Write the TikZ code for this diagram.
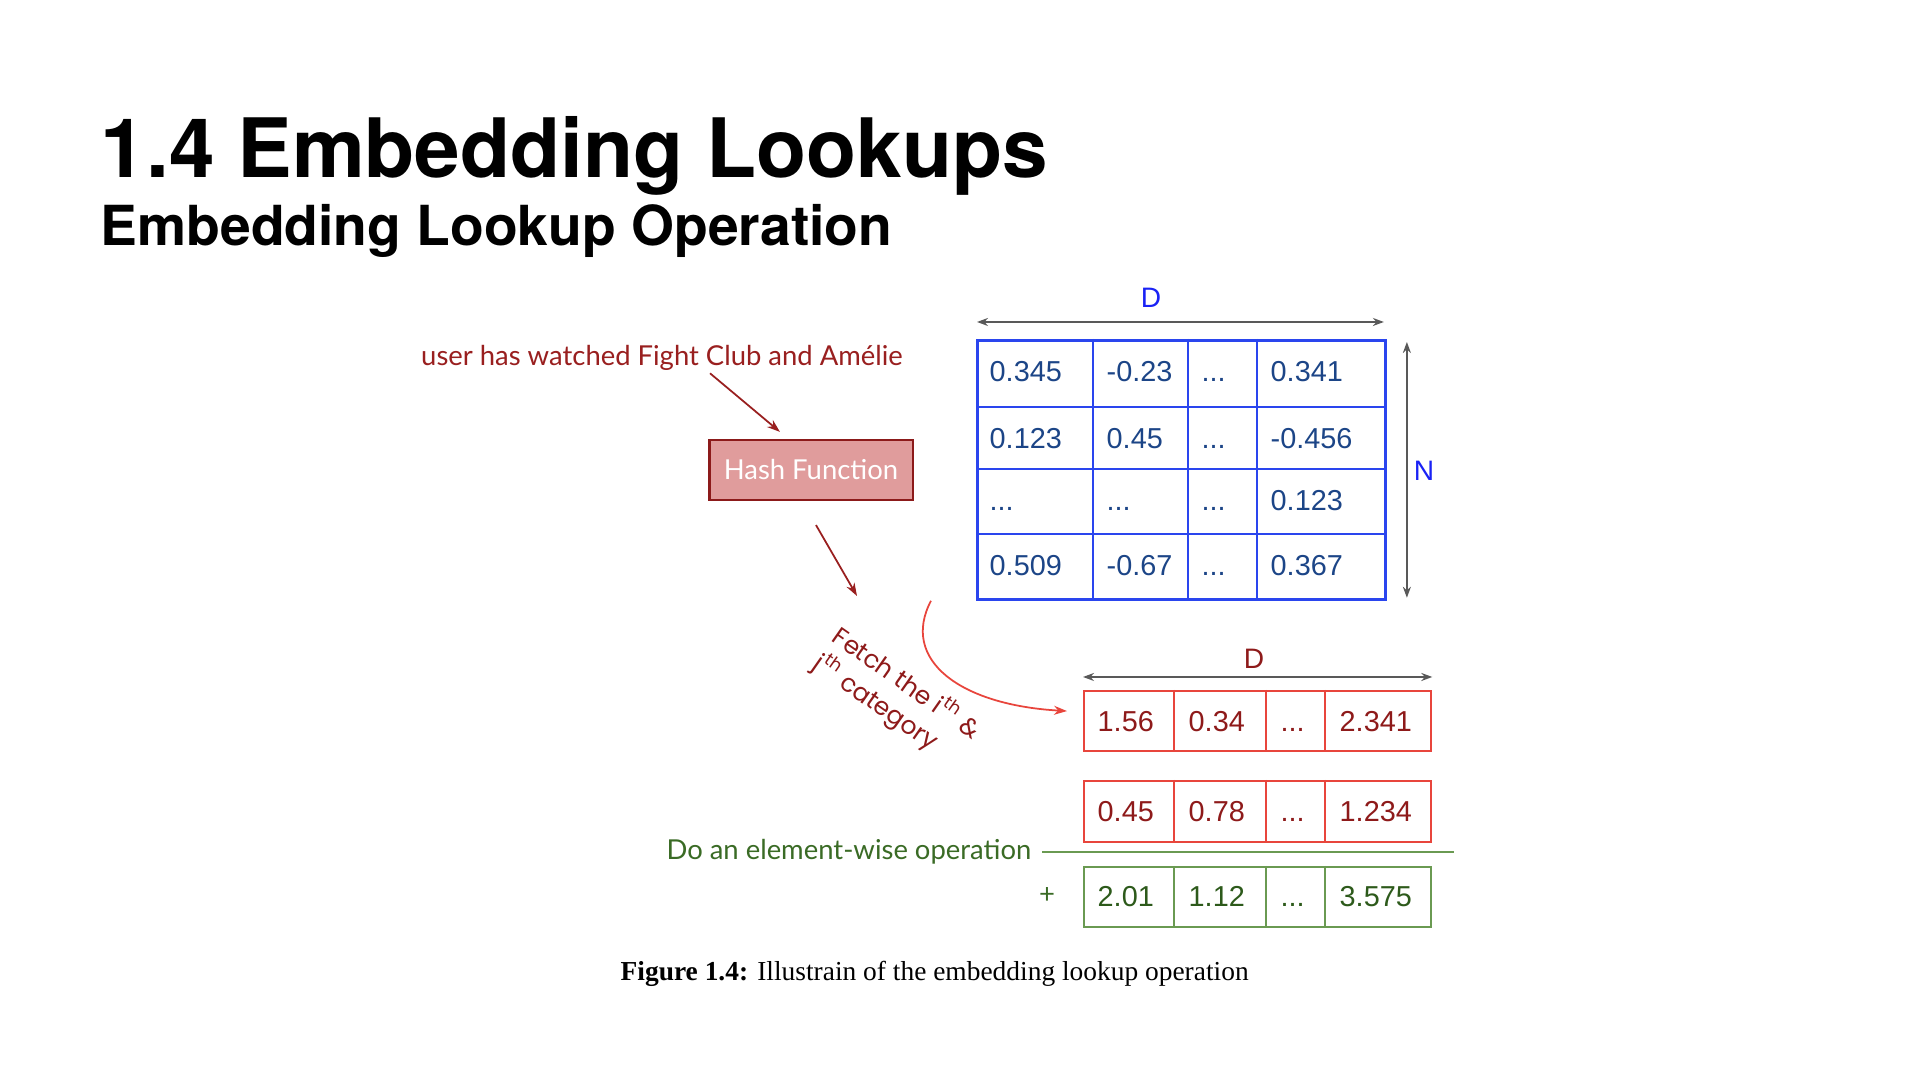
\documentclass[tikz,border=0pt]{standalone}
\usepackage{fontspec}
\setmainfont{Liberation Sans}
\newfontfamily\latofont{Lato}
\newfontfamily\geofont{Poppins}
\newfontfamily\headfont{TeX Gyre Heros}
\newfontfamily\capfont{Liberation Serif}
\usetikzlibrary{arrows.meta}
\definecolor{darkred}{HTML}{991F1F}
\definecolor{hashfill}{HTML}{E09C9C}
\definecolor{hashline}{HTML}{8C1A1A}
\definecolor{embline}{HTML}{2A45EE}
\definecolor{embtext}{HTML}{1C4587}
\definecolor{dimblue}{HTML}{1A22F5}
\definecolor{dimgray}{HTML}{595959}
\definecolor{vecred}{HTML}{E8453C}
\definecolor{vectext}{HTML}{8E1A1A}
\definecolor{sumline}{HTML}{6A9A52}
\definecolor{sumtext}{HTML}{2D5A1B}
\definecolor{sumnote}{HTML}{3A6B25}

\begin{document}
\begin{tikzpicture}[x=0.01cm, y=-0.01cm,
    head/.style={anchor=base west, inner sep=0pt, font=\headfont\bfseries\fontsize{23.3}{28}\selectfont},
    subhead/.style={anchor=base west, inner sep=0pt, font=\headfont\bfseries\fontsize{15.7}{19}\selectfont},
    note/.style={inner sep=0pt, font=\latofont\fontsize{7.8}{9.5}\selectfont},
    val/.style={anchor=base west, inner sep=0pt, font=\fontsize{8.2}{10}\selectfont},
    dimlab/.style={inner sep=0pt, font=\fontsize{8}{10}\selectfont},
    darr/.style={draw=darkred, line width=0.5pt, -{Stealth[length=1.3mm,width=0.9mm]}},
    dimarr/.style={draw=dimgray, line width=0.5pt, {Stealth[length=1.1mm,width=0.8mm]}-{Stealth[length=1.1mm,width=0.8mm]}},
    embbox/.style={draw=embline, line width=0.75pt, inner sep=0pt},
    vecbox/.style={draw=vecred, line width=0.6pt, inner sep=0pt},
    sumbox/.style={draw=sumline, line width=0.6pt, inner sep=0pt}]

    \useasboundingbox[fill=white] (0,0) rectangle (1920,1080);

    % Headings
    \node[head] (title) at (100,178) {1.4 Embedding Lookups};
    \node[subhead] (subtitle) at (100,246) {Embedding Lookup Operation};

    % Input and hash function
    \node[note, text=darkred] (user) at (662,358) {user has watched Fight Club and Amélie};
    \node[note, text=white, fill=hashfill, draw=hashline, line width=0.6pt,
          minimum width=2.03cm, minimum height=0.6cm] (hash) at (811,470) {Hash Function};
    \draw[darr] ([xshift=4.8mm,yshift=-0.2mm]user.south) -- ([xshift=-3.1mm,yshift=0.7mm]hash.north);

    \coordinate (fetchin) at (857,596);
    \draw[darr] ([xshift=0.5mm,yshift=-2.4mm]hash.south) -- (fetchin);

    % Embedding table (N x D)
    \node[embbox, minimum width=4.08cm, minimum height=2.59cm, anchor=north west] (emb) at (976,339) {};
    \draw[embline, line width=0.75pt] (1093,339) -- (1093,598) (1188,339) -- (1188,598) (1257,339) -- (1257,598)
        (976,407) -- (1384,407) (976,469) -- (1384,469) (976,534) -- (1384,534);

    \node[val, text=embtext] (m11) at (989,382) {0.345};
    \node[val, text=embtext] (m12) at (1106,382) {-0.23};
    \node[val, text=embtext] (m13) at (1201,382) {...};
    \node[val, text=embtext] (m14) at (1270,382) {0.341};
    \node[val, text=embtext] (m21) at (989,449) {0.123};
    \node[val, text=embtext] (m22) at (1106,449) {0.45};
    \node[val, text=embtext] (m23) at (1201,449) {...};
    \node[val, text=embtext] (m24) at (1270,449) {-0.456};
    \node[val, text=embtext] (m31) at (989,511) {...};
    \node[val, text=embtext] (m32) at (1106,511) {...};
    \node[val, text=embtext] (m33) at (1201,511) {...};
    \node[val, text=embtext] (m34) at (1270,511) {0.123};
    \node[val, text=embtext] (m41) at (989,576) {0.509};
    \node[val, text=embtext] (m42) at (1106,576) {-0.67};
    \node[val, text=embtext] (m43) at (1201,576) {...};
    \node[val, text=embtext] (m44) at (1270,576) {0.367};

    % Table dimensions
    \draw[dimarr] ([xshift=0.1mm,yshift=1.7mm]emb.north west) -- ([xshift=-0.3mm,yshift=1.7mm]emb.north east);
    \node[dimlab, text=dimblue] (dtop) at (1151,298) {D};
    \draw[dimarr] ([xshift=2mm,yshift=-0.3mm]emb.north east) -- ([xshift=2mm,yshift=0.3mm]emb.south east);
    \node[dimlab, text=dimblue] (nlab) at (1424,471) {N};

    % Fetched rows
    \node[vecbox, minimum width=3.47cm, minimum height=0.6cm, anchor=north west] (vec1) at (1083,690) {};
    \draw[vecred, line width=0.6pt] (1174,690) -- (1174,750) (1266,690) -- (1266,750) (1325,690) -- (1325,750);
    \node[vecbox, minimum width=3.47cm, minimum height=0.61cm, anchor=north west] (vec2) at (1083,780) {};
    \draw[vecred, line width=0.6pt] (1174,780) -- (1174,841) (1266,780) -- (1266,841) (1325,780) -- (1325,841);

    \node[val, text=vectext] (a1) at (1097,732) {1.56};
    \node[val, text=vectext] (a2) at (1188,732) {0.34};
    \node[val, text=vectext] (a3) at (1280,732) {...};
    \node[val, text=vectext] (a4) at (1339,732) {2.341};
    \node[val, text=vectext] (b1) at (1097,822) {0.45};
    \node[val, text=vectext] (b2) at (1188,822) {0.78};
    \node[val, text=vectext] (b3) at (1280,822) {...};
    \node[val, text=vectext] (b4) at (1339,822) {1.234};

    \draw[dimarr] ([yshift=1.3mm]vec1.north west) -- ([yshift=1.3mm]vec1.north east);
    \node[dimlab, text=vectext] (dvec) at (1254,659) {D};

    % Fetch arrow and label
    \draw[vecred, line width=0.5pt, -{Stealth[length=1.3mm,width=0.9mm]}]
        ([xshift=-4.5mm]emb.south west) .. controls (900,660) and (960,705) .. ([xshift=-1.6mm,yshift=1mm]vec1.west);
    \node[inner sep=0pt, text=vectext, rotate=-35, align=left,
          font=\geofont\fontsize{7.1}{9.4}\selectfont] (fetch) at (897,697)
          {Fetch the i\textsuperscript{th} \&\\j\textsuperscript{th} category};

    % Element-wise sum
    \node[note, text=sumnote, anchor=east] (elem) at (1032,852) {Do an element-wise operation};
    \node[sumbox, minimum width=3.47cm, minimum height=0.6cm, anchor=north west] (vsum) at (1083,866) {};
    \draw[sumline, line width=0.6pt] (1174,866) -- (1174,926) (1266,866) -- (1266,926) (1325,866) -- (1325,926);
    \draw[sumline, line width=0.5pt] ([xshift=1mm]elem.east) -- ([xshift=2.2mm]elem.east -| vsum.east);
    \node[note, text=sumnote] (plus) at (1047,896) {+};

    \node[val, text=sumtext] (s1) at (1097,907) {2.01};
    \node[val, text=sumtext] (s2) at (1188,907) {1.12};
    \node[val, text=sumtext] (s3) at (1280,907) {...};
    \node[val, text=sumtext] (s4) at (1339,907) {3.575};

    % Caption
    \node[anchor=base west, inner sep=0pt, font=\capfont\fontsize{7.8}{9.5}\selectfont] (caption) at (620,981)
        {\textbf{Figure 1.4:} Illustrain of the embedding lookup operation};

\end{tikzpicture}
\end{document}
